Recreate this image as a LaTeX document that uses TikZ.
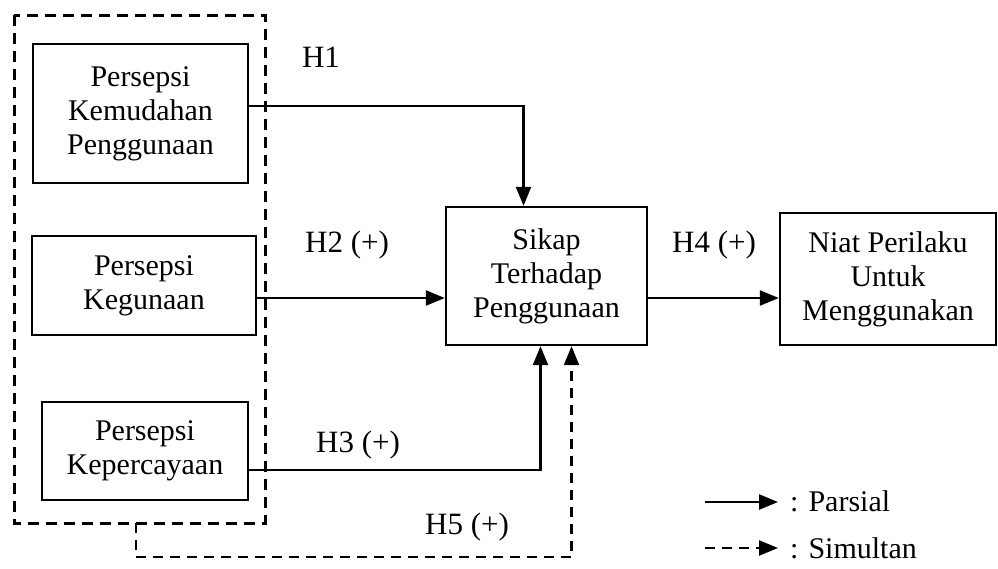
\documentclass[tikz,border=0pt]{standalone}
\usepackage{fontspec}
\setmainfont{Liberation Serif}
\usetikzlibrary{arrows.meta}

\tikzset{
  kotak/.style={draw,line width=2.4pt,align=center,inner sep=0pt,
    font=\fontsize{30}{34}\selectfont},
  panah/.style={line width=2.4pt,-{Triangle[length=19pt,width=15pt]}},
  simul/.style={panah,line width=2.2pt,dash pattern=on 10pt off 7pt},
  hlabel/.style={font=\fontsize{31}{36}\selectfont,inner sep=0pt}
}

\begin{document}
\begin{tikzpicture}[x=1pt,y=-1pt]
  \useasboundingbox (0,0) rectangle (998,568);
  % kelompok variabel bebas
  \draw[line width=3pt,dash pattern=on 11pt off 7pt] (14,15) rectangle (265,523);
  \coordinate (grp) at (136,523);
  % variabel
  \node[kotak,minimum width=215pt,minimum height=139pt] (pku) at (140.5,113.5)
    {Persepsi\\Kemudahan\\Penggunaan};
  \node[kotak,minimum width=224pt,minimum height=99pt] (pk) at (144,285.5)
    {Persepsi\\Kegunaan};
  \node[kotak,minimum width=206pt,minimum height=98pt] (pkp) at (145,451)
    {Persepsi\\Kepercayaan};
  \node[kotak,minimum width=201pt,minimum height=138pt] (stp) at (546.5,276)
    {Sikap\\Terhadap\\Penggunaan};
  \node[kotak,minimum width=216pt,minimum height=132pt] (npm) at (888,279)
    {Niat Perilaku\\Untuk\\Menggunakan};
  % hubungan parsial
  \draw[panah] (pku.east |- 0,106) -| ([xshift=-23pt]stp.north);
  \draw[panah] (pk.east |- 0,298) -- (stp.west |- 0,298);
  \draw[panah] (pkp.east |- 0,470) -| ([xshift=-6pt]stp.south);
  \draw[panah] (stp.east |- 0,298) -- (npm.west |- 0,298);
  % hubungan simultan
  \draw[simul] (grp) -- (136,557) -| ([xshift=25pt]stp.south);
  % label hipotesis
  \node[hlabel] (h1) at (321,57) {H1};
  \node[hlabel] (h2) at (347,245) {H2 (+)};
  \node[hlabel] (h3) at (358,445) {H3 (+)};
  \node[hlabel] (h4) at (714,245) {H4 (+)};
  \node[hlabel] (h5) at (467,527) {H5 (+)};
  % keterangan
  \node[hlabel,anchor=west,font=\fontsize{30}{34}\selectfont] (lp) at (790,501) {: Parsial};
  \node[hlabel,anchor=west,font=\fontsize{30}{34}\selectfont] (ls) at (790,548) {: Simultan};
  \coordinate (lp0) at (705,502);
  \coordinate (ls0) at (705,548);
  \draw[panah] (lp0) -- ([xshift=-12pt]lp.west |- lp0);
  \draw[simul] (ls0) -- ([xshift=-12pt]ls.west |- ls0);
\end{tikzpicture}
\end{document}
